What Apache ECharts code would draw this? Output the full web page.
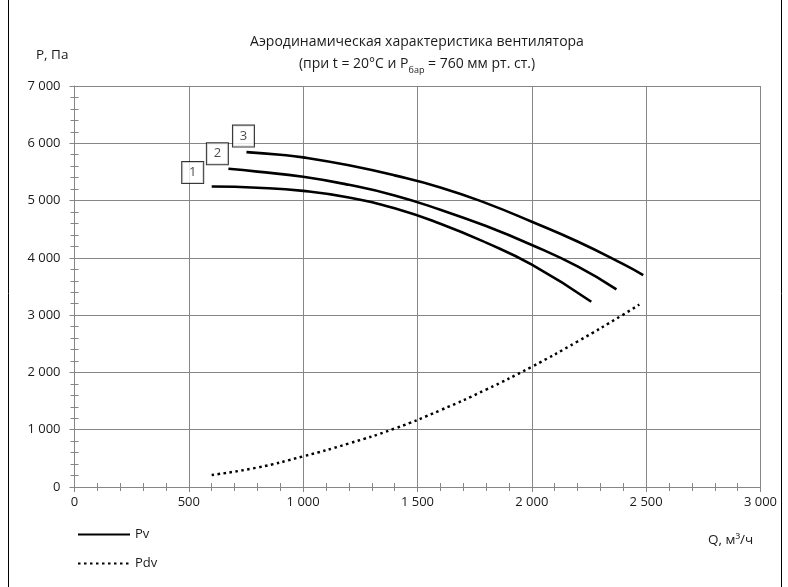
<!DOCTYPE html>
<html><head><meta charset="utf-8">
<script src="https://cdn.jsdelivr.net/npm/echarts@6/dist/echarts.min.js"></script>
<style>html,body{margin:0;padding:0;background:#fff}#c{width:788px;height:587px}</style>
</head><body><div id="c"></div>
<script>
const curve1Q = [600, 800, 1000, 1200, 1400, 1600, 1800, 2000, 2260];
const curve1P = [5245, 5225, 5170, 5055, 4865, 4595, 4265, 3880, 3234];
const curve2Q = [673, 800, 1000, 1200, 1400, 1600, 1800, 2000, 2200, 2370];
const curve2P = [5555, 5505, 5415, 5275, 5090, 4840, 4555, 4225, 3850, 3450];
const curve3Q = [752, 900, 1000, 1200, 1400, 1600, 1800, 2000, 2200, 2400, 2487];
const curve3P = [5846, 5800, 5754, 5615, 5440, 5230, 4955, 4630, 4285, 3890, 3700];
const pdvQ = [600, 800, 1000, 1200, 1400, 1600, 1800, 2000, 2200, 2400, 2470];
const pdvP = [210, 340, 535, 760, 1020, 1340, 1700, 2100, 2540, 3010, 3185];
const curveLabels = ['1', '2', '3'];
const xTickLabels = ['0', '500', '1 000', '1 500', '2 000', '2 500', '3 000'];
const yTickLabels = ['0', '1 000', '2 000', '3 000', '4 000', '5 000', '6 000', '7 000'];
const legendNames = ['Pv', 'Pdv'];
const titleLine1 = 'Аэродинамическая характеристика вентилятора';
const yName = 'P, Па';
const xName = 'Q, м³/ч';

const FONT = 'Open Sans';
const GRAY = '#868686';
const TXT = '#1a1a1a';
const zip = (q, p) => q.map((v, i) => [v, p[i]]);

const chart = echarts.init(document.getElementById('c'), null, {renderer: 'canvas'});

const lineSeries = (name, q, p, dashed) => ({
  type: 'line', name: name, data: zip(q, p), smooth: 0.5, symbol: 'none',
  xAxisIndex: 0, yAxisIndex: 0,
  lineStyle: dashed ? {color: '#000', width: 2.5, type: [2.5, 3.5]} : {color: '#000', width: 2.6},
  itemStyle: {color: '#000', opacity: 0}, z: 5
});
const labelOffsets = [[-19, -14], [-11, -15], [-3, -16]];
const starts = [[curve1Q[0], curve1P[0]], [curve2Q[0], curve2P[0]], [curve3Q[0], curve3P[0]]];

chart.setOption({
  backgroundColor: '#fff',
  animation: false,
  grid: {left: 74.5, right: 27.5, top: 86, bottom: 100, containLabel: false},
  title: {
    text: titleLine1 + '\n{a|(при t = 20°C и P}{s|бар}{a| = 760 мм рт. ст.)}',
    left: 412, top: 26, textAlign: 'center',
    textStyle: {
      fontFamily: FONT, fontSize: 14, fontWeight: 'normal', color: TXT, lineHeight: 22,
      rich: {
        a: {fontFamily: FONT, fontSize: 14, color: TXT, lineHeight: 22},
        s: {fontFamily: FONT, fontSize: 9, color: TXT, verticalAlign: 'bottom', lineHeight: 22, padding: [8, 0, 0, 0]}
      }
    }
  },
  legend: {
    data: legendNames, orient: 'vertical', left: 77, top: 528, padding: 0,
    itemWidth: 52, itemHeight: 14, itemGap: 16,
    itemStyle: {opacity: 0},
    textStyle: {fontFamily: FONT, fontSize: 13, color: TXT}
  },
  xAxis: [
    {type: 'value', min: 0, max: 3000, interval: 500, position: 'bottom',
      axisLine: {lineStyle: {color: GRAY}},
      axisTick: {show: true, length: 5, lineStyle: {color: GRAY}},
      minorTick: {show: true, splitNumber: 5, length: 4, lineStyle: {color: GRAY}},
      splitLine: {show: true, lineStyle: {color: GRAY, width: 1}},
      axisLabel: {fontFamily: FONT, fontSize: 13, color: TXT, margin: 9,
        formatter: v => xTickLabels[Math.round(v / 500)]}},
    {type: 'value', min: 0, max: 3000, interval: 500, position: 'bottom',
      axisLine: {show: false},
      axisTick: {show: true, inside: true, length: 4, lineStyle: {color: GRAY}},
      minorTick: {show: true, splitNumber: 5, length: 4, lineStyle: {color: GRAY}},
      splitLine: {show: false}, axisLabel: {show: false}}
  ],
  yAxis: [
    {type: 'value', min: 0, max: 7000, interval: 1000, position: 'left',
      axisLine: {show: true, lineStyle: {color: GRAY}},
      axisTick: {show: true, length: 5, lineStyle: {color: GRAY}},
      minorTick: {show: true, splitNumber: 5, length: 4, lineStyle: {color: GRAY}},
      splitLine: {show: true, lineStyle: {color: GRAY, width: 1}},
      axisLabel: {fontFamily: FONT, fontSize: 13, color: TXT, margin: 14,
        formatter: v => yTickLabels[Math.round(v / 1000)]}},
    {type: 'value', min: 0, max: 7000, interval: 1000, position: 'left',
      axisLine: {show: false},
      axisTick: {show: true, inside: true, length: 4, lineStyle: {color: GRAY}},
      minorTick: {show: true, splitNumber: 5, length: 4, lineStyle: {color: GRAY}},
      splitLine: {show: false}, axisLabel: {show: false}}
  ],
  graphic: [
    {type: 'rect', shape: {x: 8.5, y: -5, width: 773, height: 600}, style: {fill: 'none', stroke: '#000', lineWidth: 1}, silent: true},
    {type: 'text', left: 36, top: 48, style: {text: yName, font: '13.5px "Open Sans"', fill: TXT}},
    {type: 'text', left: 708, top: 533, style: {text: xName, font: '13.5px "Open Sans"', fill: TXT}}
  ],
  series: [
    lineSeries('Pv', curve1Q, curve1P, false),
    lineSeries('Pv', curve2Q, curve2P, false),
    lineSeries('Pv', curve3Q, curve3P, false),
    lineSeries('Pdv', pdvQ, pdvP, true),
    {type: 'scatter', name: 'labels', xAxisIndex: 0, yAxisIndex: 0, symbolSize: 1,
      itemStyle: {color: 'rgba(0,0,0,0)'}, z: 10,
      data: starts.map((s, i) => ({
        value: s,
        label: {show: true, position: 'inside', offset: labelOffsets[i], formatter: curveLabels[i],
          fontFamily: FONT, fontSize: 13, color: TXT, backgroundColor: '#fff',
          borderColor: '#000', borderWidth: 1, width: 15, height: 16, align: 'center', verticalAlign: 'middle', lineHeight: 16,
          padding: [3, 3, 2, 3]}
      }))}
  ]
});
</script>
</body></html>
